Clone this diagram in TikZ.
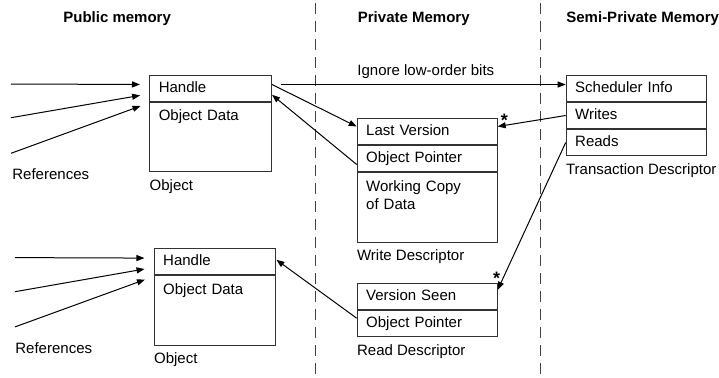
\documentclass[tikz,border=0pt]{standalone}
\usepackage{fontspec}
\setmainfont{Liberation Sans}
\usetikzlibrary{arrows, arrows.meta}
\usetikzlibrary{positioning}

\begin{document}
\begin{tikzpicture}[x=0.5pt, y=-0.5pt,
  font=\fontsize{7.5}{9}\selectfont,
  cell/.style={draw=black!80, line width=0.5pt, inner xsep=4.5pt, inner ysep=0pt,
    text height=5.4pt, text depth=1.5pt, minimum height=13pt, align=left, anchor=north west},
  datacell/.style={text height=9.2pt, text depth=25.5pt},
  objcell/.style={cell, text width=51.85pt},
  desccell/.style={cell, text width=61pt},
  head/.style={font=\fontsize{7.5}{9}\selectfont\bfseries, inner sep=0pt, anchor=base west},
  lbl/.style={inner sep=0pt, anchor=base west},
  star/.style={font=\fontsize{9}{9}\selectfont\bfseries, inner sep=0pt, anchor=base},
  arr/.style={-{Triangle[length=4pt, width=3pt]}, line width=0.5pt},
  divider/.style={draw=black!75, line width=0.5pt, dash pattern=on 5.5pt off 3.5pt}]

\useasboundingbox (0,0) rectangle (719,377);

%headings
\node[head] (hpub) at (63,22.4) {Public memory};
\node[head] (hpriv) at (357.5,22.4) {Private Memory};
\node[head] (hsemi) at (566,22.4) {Semi-Private Memory};

%dividers
\draw[divider] (315,3) -- (315,377);
\draw[divider] (540,3) -- (540,377);

%object 1
\node[objcell] (hdl1) at (149.3,75) {Handle};
\node[objcell, datacell, below=0pt of hdl1] (dat1) {Object Data};
\node[lbl] (obj1) at ([yshift=-9pt]dat1.south west) {Object};

%object 2
\node[objcell] (hdl2) at (153.7,248.3) {Handle};
\node[objcell, datacell, below=0pt of hdl2] (dat2) {Object Data};
\node[lbl] (obj2) at ([yshift=-9pt]dat2.south west) {Object};

%write descriptor
\node[desccell] (lastv) at (356.7,118.3) {Last Version};
\node[desccell, below=0pt of lastv] (optr1) {Object Pointer};
\node[desccell, datacell, below=0pt of optr1] (wcopy) {Working Copy\\of Data};
\node[lbl] (wdesc) at ([yshift=-9pt]wcopy.south west) {Write Descriptor};

%read descriptor
\node[desccell] (vseen) at (356.7,283.3) {Version Seen};
\node[desccell, below=0pt of vseen] (optr2) {Object Pointer};
\node[lbl] (rdesc) at ([yshift=-9pt]optr2.south west) {Read Descriptor};

%transaction descriptor
\node[desccell] (sched) at (565.7,75) {Scheduler Info};
\node[desccell, below=0pt of sched] (writes) {Writes};
\node[desccell, below=0pt of writes] (reads) {Reads};
\node[lbl] (tdesc) at ([yshift=-9pt]reads.south west) {Transaction Descriptor};

%references
\coordinate (r1) at (11,84);
\coordinate (r2) at (11,117.7);
\coordinate (r3) at (11,153.3);
\coordinate (r4) at (15,257.6);
\coordinate (r5) at (15,291.7);
\coordinate (r6) at (15,326.9);
\node[lbl] (refs1) at (12,179.1) {References};
\node[lbl] (refs2) at (15,353.1) {References};

\draw[arr, shorten >=4.65pt] (r1) -- ([yshift=2pt]hdl1.west);
\draw[arr, shorten >=4.65pt] (r2) -- ([yshift=-2.65pt]hdl1.west);
\draw[arr, shorten >=4.65pt] (r3) -- ([yshift=-7.15pt]hdl1.west);
\draw[arr, shorten >=4.65pt] (r4) -- ([yshift=1.85pt]hdl2.west);
\draw[arr, shorten >=4.65pt] (r5) -- ([yshift=-2.8pt]hdl2.west);
\draw[arr, shorten >=4.65pt] (r6) -- ([yshift=-7.3pt]hdl2.west);

%pointers
\draw[arr, shorten <=4.5pt] ([yshift=2pt]hdl1.east) -- ([yshift=2pt]sched.west)
  node[midway, above=2.7pt, xshift=3.5pt, inner sep=0pt] {Ignore low-order bits};
\draw[arr] ([yshift=2pt]hdl1.east) -- ([yshift=2.65pt]lastv.west);
\draw[arr] ([yshift=-2.85pt]optr1.west) -- ([yshift=-3.15pt]hdl1.east);
\draw[arr] (writes.west) -- ([yshift=2.65pt]lastv.east)
  node[star, pos=1, xshift=3.35pt, yshift=0.05pt] {*};
\draw[arr] (reads.west) -- ([yshift=3.5pt]vseen.east)
  node[star, pos=1, xshift=-0.5pt, yshift=2.8pt] {*};
\draw[arr] ([yshift=2.8pt]optr2.west) -- ([yshift=1pt]hdl2.east);

\end{tikzpicture}
\end{document}
